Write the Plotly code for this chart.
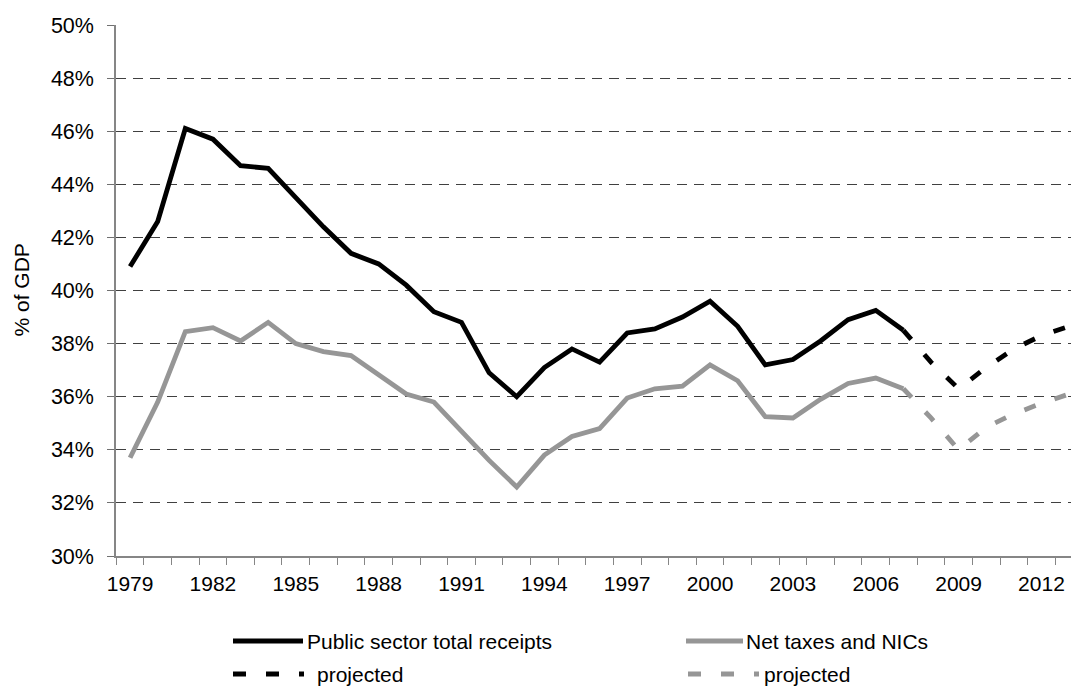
import plotly.graph_objects as go

# ---- data ----
years_hist = list(range(1979, 2008))
receipts = [40.9, 42.6, 46.1, 45.7, 44.7, 44.6, 43.5, 42.4, 41.4, 41.0,
            40.2, 39.2, 38.8, 36.9, 36.0, 37.1, 37.8, 37.3, 38.4, 38.55,
            39.0, 39.6, 38.65, 37.2, 37.4, 38.1, 38.9, 39.25, 38.5]
taxes = [33.7, 35.8, 38.45, 38.6, 38.1, 38.8, 38.0, 37.7, 37.55, 36.8,
         36.1, 35.8, 34.7, 33.6, 32.6, 33.8, 34.5, 34.8, 35.95, 36.3,
         36.4, 37.2, 36.6, 35.25, 35.2, 35.9, 36.5, 36.7, 36.3]

years_proj = list(range(2007, 2014))
receipts_proj = [38.5, 37.3, 36.3, 37.1, 37.8, 38.3, 38.65]
taxes_proj = [36.3, 35.2, 34.0, 34.85, 35.35, 35.75, 36.1]

tick_years = list(range(1979, 2013, 3))
y_ticks = list(range(30, 51, 2))

series_names = ["Public sector total receipts", "Net taxes and NICs", "projected", "projected"]

BLACK = "#000000"
GREY = "#969696"
FONT = "Liberation Sans, Arial, sans-serif"

# ---- geometry (pixels) ----
W, H = 1071, 687
ML, MR, MT, MB = 116, 0, 25, 131
PW = W - ML - MR
PH = H - MT - MB


def px_x(px):
    return (px - ML) / PW


def px_y(py):
    return (H - MB - py) / PH


fig = go.Figure()
fig.add_trace(go.Scatter(x=years_hist, y=receipts, mode="lines", name=series_names[0],
                         line=dict(color=BLACK, width=4.8), showlegend=False))
fig.add_trace(go.Scatter(x=years_hist, y=taxes, mode="lines", name=series_names[1],
                         line=dict(color=GREY, width=4.8), showlegend=False))
fig.add_trace(go.Scatter(x=years_proj, y=receipts_proj, mode="lines", name=series_names[2],
                         line=dict(color=BLACK, width=4.8, dash="12px,20px"), showlegend=False))
fig.add_trace(go.Scatter(x=years_proj, y=taxes_proj, mode="lines", name=series_names[3],
                         line=dict(color=GREY, width=4.8, dash="12px,20px"), showlegend=False))

# ---- manual legend ----
shapes = []
annotations = []
rows = [
    (641.0, [(233, 303, BLACK, "solid", 305, series_names[0]),
             (686, 743, GREY, "solid", 744, series_names[1])]),
    (674.0, [(233, 304, BLACK, "13px,20px", 315, series_names[2]),
             (688, 759, GREY, "13px,20px", 762, series_names[3])]),
]
for ypx, items in rows:
    for x0, x1, col, dash, tx, label in items:
        shapes.append(dict(type="line", xref="paper", yref="paper",
                           x0=px_x(x0), x1=px_x(x1), y0=px_y(ypx), y1=px_y(ypx),
                           line=dict(color=col, width=5, dash=dash)))
        annotations.append(dict(xref="paper", yref="paper", x=px_x(tx), y=px_y(ypx),
                                text=label, showarrow=False, xanchor="left", yanchor="middle",
                                font=dict(family=FONT, size=21, color="black")))

# y axis title
annotations.append(dict(xref="paper", yref="paper", x=px_x(21), y=0.5, text="% of GDP",
                        textangle=-90, showarrow=False, xanchor="center", yanchor="middle",
                        font=dict(family=FONT, size=21, color="black")))

fig.update_layout(
    width=W, height=H,
    margin=dict(l=ML, r=MR, t=MT, b=MB, pad=0),
    paper_bgcolor="white", plot_bgcolor="white",
    font=dict(family=FONT, size=21, color="black"),
    shapes=shapes, annotations=annotations,
    showlegend=False,
)
fig.update_xaxes(
    range=[1978.49, 2013.07],
    tickmode="array", tickvals=tick_years, ticktext=[str(y) for y in tick_years],
    ticks="", showgrid=False, zeroline=False,
    showline=True, linecolor="#868686", linewidth=1.5,
    tickfont=dict(family=FONT, size=21, color="black"),
    ticklabelstandoff=8,
    minor=dict(tickmode="linear", tick0=1978.5, dtick=1, ticks="outside",
               ticklen=7, tickcolor="#868686", tickwidth=1.2, showgrid=False),
)
fig.update_yaxes(
    range=[30, 50], tickmode="array", tickvals=y_ticks,
    ticktext=[f"{v}%" for v in y_ticks],
    showgrid=True, gridcolor="#404040", gridwidth=1, griddash="10px,7px",
    zeroline=False, showline=True, linecolor="#868686", linewidth=1.5,
    ticks="outside", ticklen=7, tickcolor="#707070", tickwidth=1.2,
    tickfont=dict(family=FONT, size=21.5, color="black"),
    ticklabelstandoff=9,
)

fig.write_html(
    "out.html",
    config={"displayModeBar": False},
    post_script="document.body.style.margin='0px';document.body.style.overflow='hidden';",
)
